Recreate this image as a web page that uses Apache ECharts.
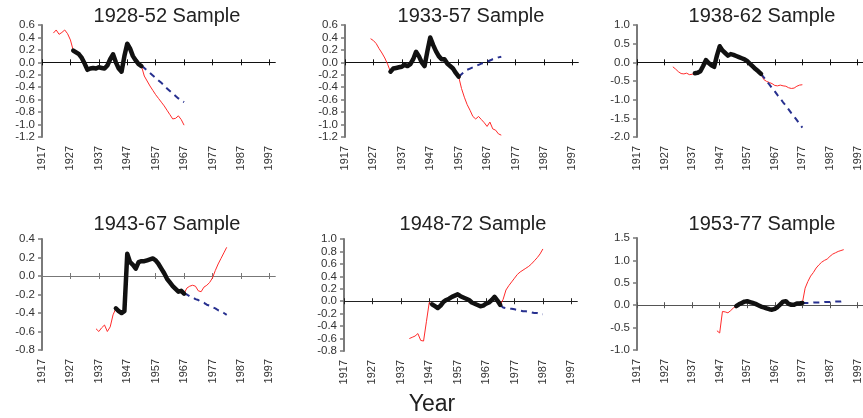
<!DOCTYPE html>
<html><head><meta charset="utf-8">
<script src="https://cdn.jsdelivr.net/npm/echarts@6/dist/echarts.min.js"></script>
<style>html,body{margin:0;padding:0;background:#fff}#c{width:863px;height:418px}</style>
</head><body><div id="c"></div>
<script>
// ---------- categories ----------
const firstYear = 1917, lastYear = 1999;
const yearLabels = [];
for (let y = firstYear; y <= lastYear; y++) yearLabels.push(String(y));

// ---------- panel texts / axes ----------
const panelTitles = ['1928-52 Sample', '1933-57 Sample', '1938-62 Sample', '1943-67 Sample', '1948-72 Sample', '1953-77 Sample'];
const yMins = [-1.2, -1.2, -2.0, -0.8, -0.8, -1.0];
const yMaxs = [0.6, 0.6, 1.0, 0.4, 1.0, 1.5];
const yIntervals = [0.2, 0.2, 0.5, 0.2, 0.2, 0.5];
const xAxisTitle = 'Year';

// ---------- start years ----------
const preStarts = [1921, 1926, 1930, 1936, 1940, 1946];
const sampleStarts = [1928, 1933, 1938, 1943, 1948, 1953];
const postStarts = [1952, 1957, 1962, 1967, 1972, 1977];

// ---------- values: pre-sample actual (red) ----------
const p1Pre = [0.47, 0.52, 0.45, 0.48, 0.52, 0.46, 0.36, 0.19];
const p2Pre = [0.38, 0.35, 0.30, 0.22, 0.15, 0.07, -0.03, -0.15];
const p3Pre = [-0.12, -0.18, -0.25, -0.30, -0.31, -0.29, -0.33, -0.32, -0.29];
const p4Pre = [-0.57, -0.60, -0.56, -0.53, -0.60, -0.55, -0.42, -0.35];
const p5Pre = [-0.60, -0.58, -0.56, -0.52, -0.63, -0.64, -0.33, -0.02, -0.05];
const p6Pre = [-0.57, -0.62, -0.14, -0.15, -0.17, -0.12, -0.06, -0.02];

// ---------- values: sample period (black) ----------
const p1Sample = [0.19, 0.16, 0.13, 0.07, -0.02, -0.12, -0.10, -0.09, -0.10, -0.08, -0.09, -0.10, -0.05, 0.05, 0.13, 0.00, -0.10, -0.15, 0.10, 0.30, 0.22, 0.10, 0.03, -0.03, -0.06];
const p2Sample = [-0.15, -0.10, -0.09, -0.08, -0.07, -0.04, -0.06, -0.03, 0.05, 0.17, 0.10, 0.00, -0.06, 0.18, 0.40, 0.28, 0.18, 0.10, 0.05, 0.05, -0.02, -0.06, -0.10, -0.17, -0.23];
const p3Sample = [-0.29, -0.28, -0.24, -0.10, 0.06, -0.02, -0.08, -0.12, 0.18, 0.43, 0.32, 0.25, 0.18, 0.22, 0.20, 0.17, 0.14, 0.11, 0.08, 0.03, -0.04, -0.11, -0.18, -0.24, -0.31];
const p4Sample = [-0.35, -0.38, -0.40, -0.38, 0.24, 0.15, 0.12, 0.08, 0.15, 0.16, 0.16, 0.17, 0.18, 0.19, 0.17, 0.13, 0.08, 0.03, -0.03, -0.07, -0.11, -0.14, -0.17, -0.16, -0.19];
const p5Sample = [-0.05, -0.08, -0.11, -0.07, -0.01, 0.02, 0.04, 0.07, 0.09, 0.11, 0.08, 0.06, 0.04, 0.02, -0.02, -0.04, -0.06, -0.08, -0.07, -0.04, -0.02, 0.02, 0.07, 0.01, -0.06];
const p6Sample = [-0.02, 0.02, 0.05, 0.08, 0.09, 0.07, 0.05, 0.03, 0.00, -0.03, -0.05, -0.07, -0.09, -0.10, -0.08, -0.04, 0.02, 0.08, 0.09, 0.03, 0.01, 0.01, 0.04, 0.04, 0.05];

// ---------- values: post-sample actual (red) ----------
const p1Post = [-0.06, -0.22, -0.30, -0.38, -0.45, -0.52, -0.58, -0.64, -0.70, -0.77, -0.84, -0.91, -0.90, -0.86, -0.92, -1.01];
const p2Post = [-0.23, -0.42, -0.56, -0.68, -0.77, -0.87, -0.91, -0.87, -0.92, -0.97, -1.03, -0.96, -1.07, -1.09, -1.15, -1.17];
const p3Post = [-0.31, -0.46, -0.51, -0.54, -0.57, -0.62, -0.63, -0.61, -0.63, -0.64, -0.68, -0.70, -0.69, -0.64, -0.61, -0.60];
const p4Post = [-0.19, -0.13, -0.11, -0.10, -0.11, -0.16, -0.17, -0.12, -0.10, -0.07, -0.02, 0.06, 0.13, 0.19, 0.25, 0.31];
const p5Post = [-0.06, 0.03, 0.18, 0.25, 0.31, 0.37, 0.43, 0.47, 0.50, 0.53, 0.56, 0.60, 0.65, 0.70, 0.76, 0.84];
const p6Post = [0.05, 0.38, 0.53, 0.65, 0.73, 0.83, 0.90, 0.96, 1.00, 1.03, 1.09, 1.14, 1.17, 1.20, 1.22, 1.24];

// ---------- values: forecast (blue dashed) ----------
const p1Forecast = [-0.06, -0.09, -0.13, -0.17, -0.21, -0.25, -0.29, -0.33, -0.37, -0.42, -0.46, -0.50, -0.54, -0.58, -0.61, -0.64];
const p2Forecast = [-0.23, -0.19, -0.15, -0.12, -0.10, -0.08, -0.06, -0.04, -0.02, -0.01, 0.01, 0.03, 0.05, 0.06, 0.08, 0.09];
const p3Forecast = [-0.31, -0.40, -0.50, -0.59, -0.69, -0.78, -0.88, -0.97, -1.07, -1.16, -1.26, -1.36, -1.45, -1.55, -1.65, -1.75];
const p4Forecast = [-0.19, -0.20, -0.22, -0.23, -0.25, -0.26, -0.28, -0.29, -0.31, -0.32, -0.34, -0.35, -0.37, -0.38, -0.40, -0.42];
const p5Forecast = [-0.06, -0.10, -0.11, -0.12, -0.12, -0.13, -0.14, -0.15, -0.16, -0.16, -0.17, -0.18, -0.19, -0.19, -0.20, -0.21];
const p6Forecast = [0.05, 0.05, 0.05, 0.05, 0.06, 0.06, 0.06, 0.06, 0.07, 0.07, 0.07, 0.07, 0.08, 0.08, 0.08, 0.09];

const preList = [p1Pre, p2Pre, p3Pre, p4Pre, p5Pre, p6Pre];
const sampleList = [p1Sample, p2Sample, p3Sample, p4Sample, p5Sample, p6Sample];
const postList = [p1Post, p2Post, p3Post, p4Post, p5Post, p6Post];
const forecastList = [p1Forecast, p2Forecast, p3Forecast, p4Forecast, p5Forecast, p6Forecast];

// ---------- layout (pixels) ----------
const gridLefts = [42, 345, 637, 42, 344, 637];
const gridTops = [25, 25, 25, 239, 239, 238];
const gridHeights = [112, 112, 112, 111, 112, 112];
const gridWidth = 233;
const titleX = [167, 471, 762, 167, 473, 762];
const titleY = [16, 16, 16, 224, 224, 224];
const zeroLineColors = ['#111', '#111', '#111', '#777', '#222', '#555'];

function placeSeries(start, values) {
  const arr = yearLabels.map(() => null);
  values.forEach((v, i) => { arr[start - firstYear + i] = v; });
  return arr;
}

const FONT = 'Liberation Sans, Arial, sans-serif';
const grid = [], xAxis = [], yAxis = [], series = [], graphic = [];

for (let p = 0; p < 6; p++) {
  grid.push({ left: gridLefts[p], top: gridTops[p], width: gridWidth, height: gridHeights[p], containLabel: false });
  yAxis.push({
    type: 'value', gridIndex: p, min: yMins[p], max: yMaxs[p], interval: yIntervals[p],
    splitLine: { show: false },
    axisLine: { show: true, lineStyle: { color: '#7a7a7a', width: 2 } },
    axisTick: { show: true, length: 4, lineStyle: { color: '#7a7a7a', width: 1.5 } },
    axisLabel: {
      color: '#333', fontSize: 11.5, fontFamily: FONT, margin: 7,
      formatter: v => (Math.abs(v) < 1e-9 ? 0 : v).toFixed(1)
    }
  });
  const base = xAxis.length;
  xAxis.push({
    type: 'category', gridIndex: p, data: yearLabels, boundaryGap: false, position: 'bottom',
    axisLine: { show: true, onZero: true, onZeroAxisIndex: p, lineStyle: { color: zeroLineColors[p], width: 1.2 } },
    axisTick: { show: true, interval: 9, length: 3, lineStyle: { color: zeroLineColors[p], width: 1 } },
    axisLabel: { show: false }, splitLine: { show: false }
  });
  xAxis.push({
    type: 'category', gridIndex: p, data: yearLabels, boundaryGap: false, position: 'top',
    axisLine: { show: true, onZero: true, onZeroAxisIndex: p, lineStyle: { color: zeroLineColors[p], width: 1.2 } },
    axisTick: { show: true, interval: 9, length: 3, lineStyle: { color: zeroLineColors[p], width: 1 } },
    axisLabel: { show: false }, splitLine: { show: false }
  });
  xAxis.push({
    type: 'category', gridIndex: p, data: yearLabels, boundaryGap: false, position: 'bottom',
    axisLine: { show: false, onZero: false }, axisTick: { show: false },
    axisLabel: { show: true, interval: 9, rotate: 90, margin: 9, color: '#333', fontSize: 11, fontFamily: FONT },
    splitLine: { show: false }
  });

  const common = { type: 'line', xAxisIndex: base, yAxisIndex: p, symbol: 'none', showSymbol: false, connectNulls: false, silent: true };
  series.push(Object.assign({}, common, { name: 'pre', data: placeSeries(preStarts[p], preList[p]), lineStyle: { color: '#ff2b2b', width: 1 }, z: 2 }));
  series.push(Object.assign({}, common, { name: 'post', data: placeSeries(postStarts[p], postList[p]), lineStyle: { color: '#ff2b2b', width: 1 }, z: 2 }));
  series.push(Object.assign({}, common, { name: 'forecast', data: placeSeries(postStarts[p], forecastList[p]), lineStyle: { color: '#27308f', width: 2, type: [6, 5] }, z: 3 }));
  series.push(Object.assign({}, common, { name: 'sample', data: placeSeries(sampleStarts[p], sampleList[p]), lineStyle: { color: '#111', width: 4.5, join: 'round', cap: 'round' }, z: 4 }));

  graphic.push({
    type: 'text', x: titleX[p], y: titleY[p],
    style: { text: panelTitles[p], fill: '#222', font: '20px ' + FONT, textAlign: 'center', textVerticalAlign: 'middle' }
  });
}
graphic.push({
  type: 'text', x: 432, y: 405,
  style: { text: xAxisTitle, fill: '#222', font: '23px ' + FONT, textAlign: 'center', textVerticalAlign: 'middle' }
});

const chart = echarts.init(document.getElementById('c'), null, { renderer: 'canvas' });
chart.setOption({ backgroundColor: '#fff', animation: false, grid, xAxis, yAxis, series, graphic });
</script>
</body></html>
